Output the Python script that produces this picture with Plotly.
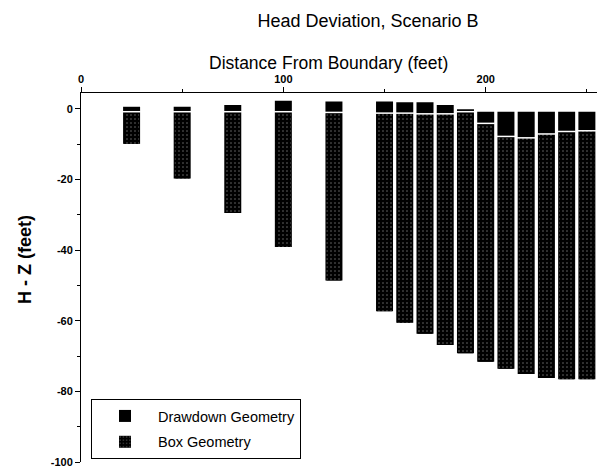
import plotly.graph_objects as go

# Distance from boundary (feet)
distance = [25, 50, 75, 100, 125, 150, 160, 170, 180, 190, 200, 210, 220, 230, 240, 250]
# Bottom of bars (H - Z, feet)
bar_bottom = [-9.9, -19.7, -29.5, -39.1, -48.6, -57.3, -60.6, -63.7, -66.9, -69.2,
              -71.6, -73.6, -75.1, -76.2, -76.6, -76.6]
# Top of Drawdown Geometry bars
drawdown_top = [0.6, 0.6, 1.1, 2.3, 2.1, 2.1, 1.9, 1.9, 1.1, -0.1,
                -0.8, -0.8, -0.8, -0.8, -0.8, -0.8]
# Top of Box Geometry bars
box_top = [-0.8, -0.8, -0.8, -0.8, -1.0, -1.2, -1.2, -1.4, -1.4, -0.8,
           -4.1, -7.8, -8.2, -7.1, -6.4, -6.2]

x_ticks = [0, 100, 200]
y_ticks = [0, -20, -40, -60, -80, -100]

FONT = "Liberation Sans, Arial, sans-serif"

dd_len = [t - b for t, b in zip(drawdown_top, bar_bottom)]
box_len = [t - b for t, b in zip(box_top, bar_bottom)]

fig = go.Figure()
fig.add_trace(go.Bar(
    x=distance, y=dd_len, base=bar_bottom, width=8.4,
    name="Drawdown Geometry", legendgroup="dd",
    marker=dict(color="black", line=dict(width=0)),
))
fig.add_trace(go.Bar(
    x=distance, y=box_len, base=bar_bottom, width=7.4,
    name="Box Geometry", legendgroup="box",
    marker=dict(color="black", line=dict(width=0),
                pattern=dict(shape=".", fillmode="overlay", fgcolor="#dddddd",
                             size=4, solidity=0.12)),
))
fig.add_trace(go.Scatter(
    x=distance, y=box_top, mode="markers", showlegend=False, hoverinfo="skip",
    marker=dict(symbol="line-ew", size=13, line=dict(color="white", width=1.5)),
))

fig.update_layout(
    width=597, height=470,
    margin=dict(l=81, r=0, t=93, b=8, autoexpand=False),
    paper_bgcolor="white", plot_bgcolor="white",
    barmode="overlay",
    font=dict(family=FONT, color="black"),
    title=dict(text="Head Deviation, Scenario B", x=368 / 597, xanchor="center",
               xref="container", y=1 - 21 / 470, yanchor="middle",
               font=dict(size=18, family=FONT)),
    legend=dict(x=0.0194, y=0.1707, xanchor="left", yanchor="top",
                bordercolor="black", borderwidth=1, bgcolor="white",
                font=dict(size=14.5, family=FONT), itemwidth=56,
                entrywidth=232, tracegroupgap=4),
    showlegend=True,
    annotations=[
        dict(text="Distance From Boundary (feet)", xref="paper", yref="paper",
             x=(328 - 81) / 516, y=(462 - 63) / 369, xanchor="center", yanchor="middle",
             showarrow=False, font=dict(size=17.5, family=FONT)),
        dict(text="<b>H - Z (feet)</b>", xref="paper", yref="paper",
             x=(25 - 81) / 516, y=(462 - 260) / 369, xanchor="center", yanchor="middle",
             textangle=-90, showarrow=False, font=dict(size=18, family=FONT)),
    ],
)
fig.update_xaxes(
    automargin=False,
    side="top", range=[0, 255], showgrid=False, zeroline=False,
    showline=True, linecolor="black", linewidth=1,
    tickvals=x_ticks, ticktext=[str(v) for v in x_ticks],
    ticks="outside", ticklen=5, tickcolor="black",
    tickfont=dict(size=11, family=FONT, weight="bold"),
    minor=dict(dtick=50, tick0=0, ticks="outside", ticklen=3, tickcolor="black"),
)
fig.update_yaxes(
    automargin=False,
    range=[-100, 4.5], showgrid=False, zeroline=False,
    showline=True, linecolor="black", linewidth=1,
    tickvals=y_ticks, ticktext=[str(v) for v in y_ticks],
    ticks="outside", ticklen=5, tickcolor="black",
    tickfont=dict(size=11, family=FONT, weight="bold"),
    minor=dict(dtick=10, tick0=0, ticks="outside", ticklen=3, tickcolor="black"),
)

fig.write_html("out.html", config={"displayModeBar": False},
               post_script="document.body.style.margin='0';document.body.style.padding='0';")
